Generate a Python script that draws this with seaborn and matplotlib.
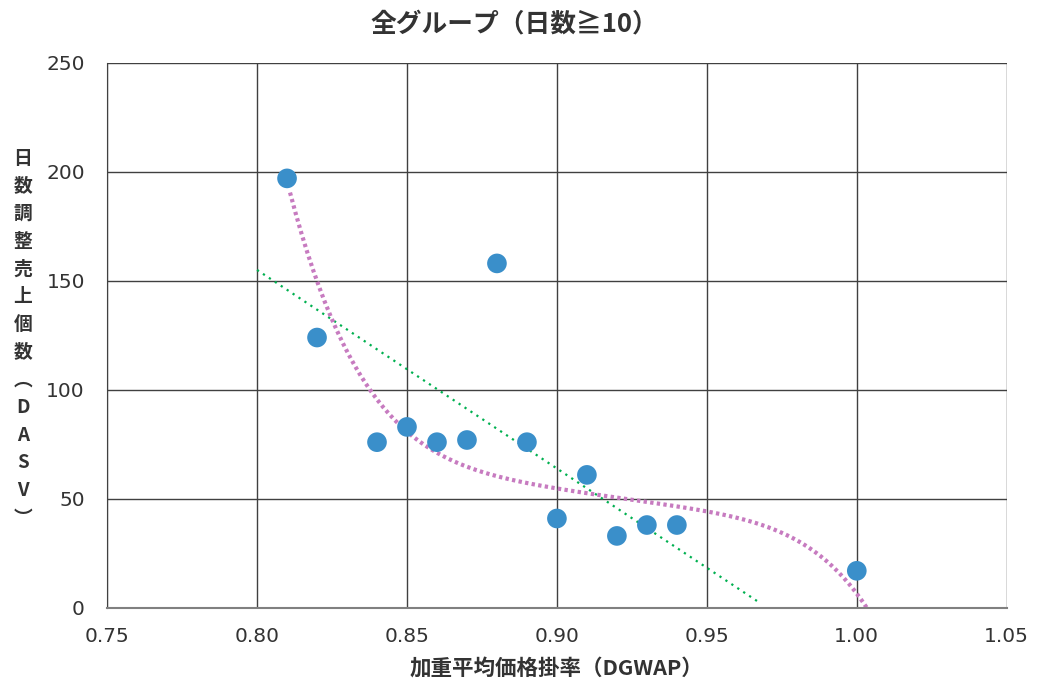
import numpy as np
import pandas as pd
import matplotlib
matplotlib.use("Agg")
import matplotlib.pyplot as plt
import seaborn as sns

# Data
price_rate = [0.81, 0.82, 0.84, 0.85, 0.86, 0.87, 0.88, 0.89, 0.90, 0.91, 0.92, 0.93, 0.94, 1.00]
dasv = [197, 124, 76, 83, 76, 77, 158, 76, 41, 61, 33, 38, 38, 17]

# trendlines as drawn in the chart
lin_x = [0.80, 0.968]
lin_y = [155, 2]
poly_x = [0.811, 0.8155, 0.8183, 0.8217, 0.8273, 0.835, 0.8428, 0.8539, 0.8639, 0.8717,
          0.881, 0.8989, 0.9143, 0.932, 0.95, 0.9677, 0.9822, 0.991, 0.9978, 1.0011, 1.0033]
poly_y = [190, 173, 155, 141, 123, 106, 92, 79, 69, 64,
          57, 54, 53, 49, 45, 37, 28, 20.5, 12.8, 5.2, -2]

title = "全グループ（日数≧10）"
xlabel = "加重平均価格掛率（DGWAP）"
ylabel_chars = ["日", "数", "調", "整", "売", "上", "個", "数", "︵", "D", "A", "S", "V", "︶"]
xticks = [0.75, 0.80, 0.85, 0.90, 0.95, 1.00, 1.05]
yticks = [0, 50, 100, 150, 200, 250]

df = pd.DataFrame({"x": price_rate, "y": dasv})

sns.set_style("white")
plt.rcParams["font.family"] = ["DejaVu Sans", "Noto Sans CJK JP"]

fig = plt.figure(figsize=(10.4, 6.83), dpi=100)
ax = fig.add_axes([0.103, 0.110, 0.865, 0.798])

ax.plot(lin_x, lin_y, color="#00b050", lw=1.6, linestyle=(0, (1, 2.2)), zorder=2)
sns.regplot(x=poly_x, y=poly_y, order=5, ci=None, scatter=False, ax=ax,
            line_kws={"color": "#c77bc0", "lw": 3, "linestyle": (0, (0.8, 0.8)), "zorder": 2})

sns.scatterplot(data=df, x="x", y="y", ax=ax, s=200, color="#3a8fca",
                edgecolor="none", zorder=3)

ax.set_xlim(0.75, 1.05)
ax.set_ylim(0, 250)
ax.set_xticks(xticks)
ax.set_xticklabels([f"{t:.2f}" for t in xticks])
ax.set_yticks(yticks)
ax.grid(True, color="#404040", lw=1)
for s in ax.spines.values():
    s.set_visible(False)
ax.spines["left"].set_visible(True)
ax.spines["bottom"].set_visible(True)
ax.spines["left"].set_color("#404040")
ax.spines["bottom"].set_color("#808080")
ax.spines["bottom"].set_linewidth(1.5)
ax.tick_params(axis="both", labelsize=14.5, length=0, pad=14, colors="#333333")
ax.tick_params(axis="y", pad=16)

ax.set_xlabel(xlabel, family=["Noto Sans CJK JP"], fontsize=15.5, fontweight="bold",
              color="#333333", labelpad=8)
ax.set_ylabel("")
fig.text(0.022, 0.505, "\n".join(ylabel_chars), family=["Noto Sans CJK JP"],
         fontsize=13.5, fontweight="bold", color="#333333", ha="center", va="center",
         linespacing=1.58)

fig.text(0.495, 0.965, title, family=["Noto Sans CJK JP", "DejaVu Sans"], fontsize=18.5,
         fontweight="bold", color="#333333", ha="center", va="center")

plt.savefig("out.png", dpi=100)
